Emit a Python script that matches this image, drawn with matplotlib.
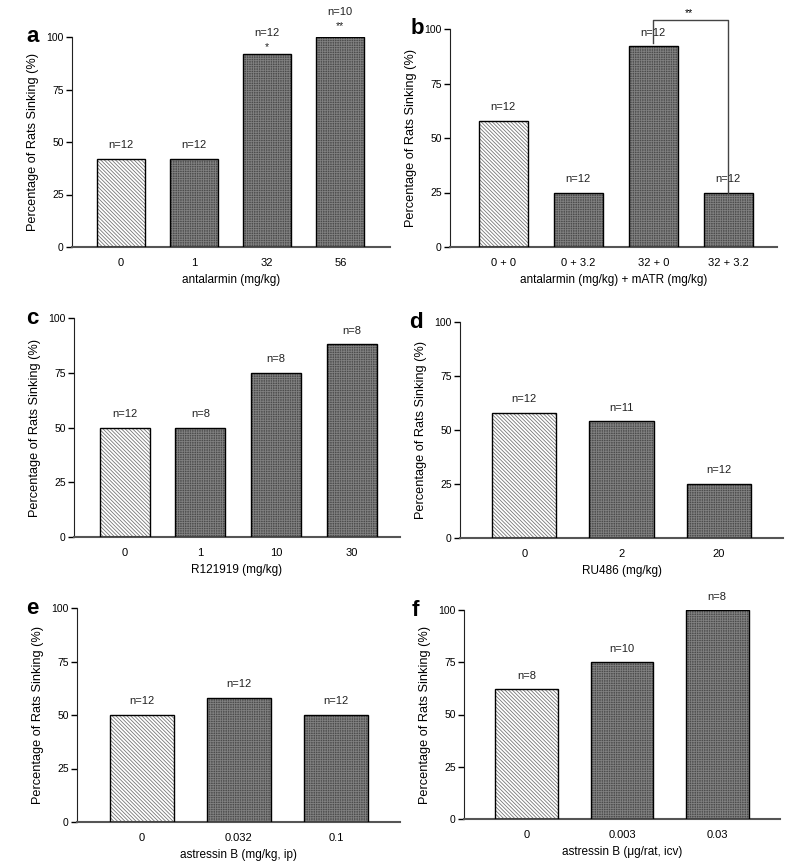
import numpy as np
import matplotlib.pyplot as plt

plt.rcParams['font.family'] = ['Liberation Sans', 'DejaVu Sans']
plt.rcParams['hatch.linewidth'] = 0.6

W, H = 791, 864

# panel data
a_labels = ['0', '1', '32', '56']
a_values = [42, 42, 92, 100]
a_n = ['n=12', 'n=12', 'n=12', 'n=10']
a_stars = ['', '', '*', '**']

b_labels = ['0 + 0', '0 + 3.2', '32 + 0', '32 + 3.2']
b_values = [58, 25, 92, 25]
b_n = ['n=12', 'n=12', 'n=12', 'n=12']

c_labels = ['0', '1', '10', '30']
c_values = [50, 50, 75, 88]
c_n = ['n=12', 'n=8', 'n=8', 'n=8']

d_labels = ['0', '2', '20']
d_values = [58, 54, 25]
d_n = ['n=12', 'n=11', 'n=12']

e_labels = ['0', '0.032', '0.1']
e_values = [50, 58, 50]
e_n = ['n=12', 'n=12', 'n=12']

f_labels = ['0', '0.003', '0.03']
f_values = [62, 75, 100]
f_n = ['n=8', 'n=10', 'n=8']

fig = plt.figure(figsize=(W / 100, H / 100), dpi=100)


def add_ax(left, right, top, bottom):
    return fig.add_axes([left / W, 1 - bottom / H, (right - left) / W, (bottom - top) / H])


def panel(box, letter, letter_x, labels, values, nlabels, xlabel, xlim, stars=None):
    ax = add_ax(*box)
    x = np.arange(len(values))
    # control bar: white with diagonal lines, others dark with fine grid
    faces = ['white'] + ['#4c4c4c'] * (len(values) - 1)
    hcols = ['#777777'] + ['#808080'] * (len(values) - 1)
    hatches = ['\\' * 9] + ['+' * 7] * (len(values) - 1)
    for i in range(len(values)):
        ax.bar(x[i], values[i], width=0.66, color=faces[i], edgecolor=hcols[i],
               hatch=hatches[i], linewidth=0, zorder=2)
        ax.bar(x[i], values[i], width=0.66, facecolor='none', edgecolor='black',
               linewidth=1.0, zorder=3)
        off = 4
        if stars and stars[i]:
            s_off = 1 if len(stars[i]) == 1 else 3
            ax.text(x[i], values[i] + s_off, stars[i], ha='center', va='bottom',
                    fontsize=7.5, color='#222222', clip_on=False)
            off = s_off + 6.5
        ax.text(x[i], values[i] + off, nlabels[i], ha='center', va='bottom',
                fontsize=8, color='#222222', clip_on=False)
    ax.set_xlim(*xlim)
    ax.set_ylim(0, 100)
    ax.set_yticks([0, 25, 50, 75, 100])
    ax.set_xticks(x)
    ax.set_xticklabels(labels)
    ax.tick_params(axis='x', length=0, pad=8, labelsize=8)
    ax.tick_params(axis='y', length=4, width=1, pad=2, labelsize=7.5)
    for s in ['top', 'right']:
        ax.spines[s].set_visible(False)
    ax.spines['left'].set_color('#222222')
    ax.spines['bottom'].set_color('#555555')
    ax.spines['bottom'].set_linewidth(1.5)
    ax.set_xlabel(xlabel, fontsize=8.5, labelpad=4)
    ax.set_ylabel('Percentage of Rats Sinking (%)', fontsize=9.2, labelpad=5)
    fig.text(letter_x / W, 1 - box[2] / H, letter, fontsize=16,
             fontweight='bold', ha='center', va='center')
    return ax


panel((72, 390, 37, 247), 'a', 33, a_labels, a_values, a_n,
      'antalarmin (mg/kg)', (-0.67, 3.68), stars=a_stars)

ax_b = panel((450, 777, 29, 247), 'b', 417, b_labels, b_values, b_n,
             'antalarmin (mg/kg) + mATR (mg/kg)', (-0.71, 3.65))
# significance bracket between 32+0 and 32+3.2
ax_b.plot([2, 2, 3, 3], [93.5, 104, 104, 25], color='#444444', lw=1.0,
          clip_on=False, zorder=4)
ax_b.text(2.47, 105, '**', ha='center', va='bottom', fontsize=7.5, clip_on=False)

panel((74, 400, 318, 537), 'c', 32, c_labels, c_values, c_n,
      'R121919 (mg/kg)', (-0.67, 3.64))
panel((460, 783, 322, 538), 'd', 416, d_labels, d_values, d_n,
      'RU486 (mg/kg)', (-0.66, 2.66))
panel((77, 400, 608, 822), 'e', 32, e_labels, e_values, e_n,
      'astressin B (mg/kg, ip)', (-0.67, 2.66))
panel((464, 780, 610, 819), 'f', 415, f_labels, f_values, f_n,
      'astressin B (\u03bcg/rat, icv)', (-0.66, 2.66))

fig.savefig('out.png', dpi=100)
